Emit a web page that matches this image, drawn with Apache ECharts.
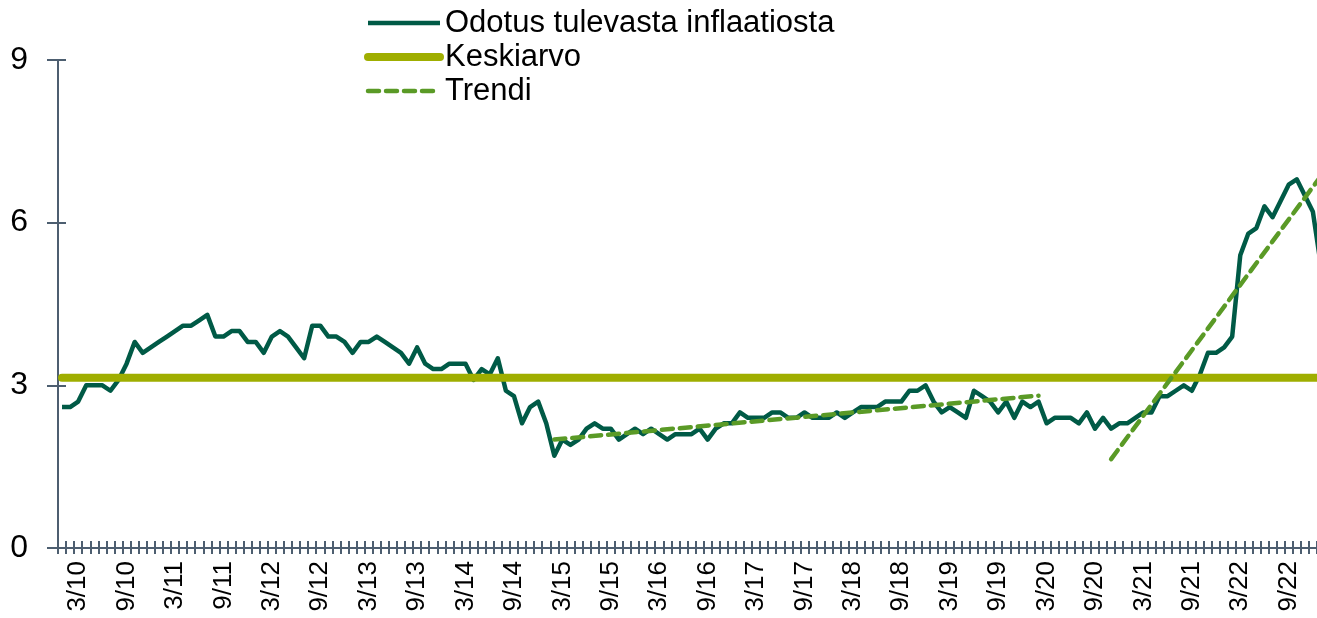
<!DOCTYPE html>
<html>
<head>
<meta charset="utf-8">
<script src="https://cdn.jsdelivr.net/npm/echarts@6/dist/echarts.min.js"></script>
<style>
  html, body { margin: 0; padding: 0; background: #fff; overflow: hidden; }
  /* kuvaaja jatkuu hieman oikean reunan yli kuten alkuperäisessä */
  #main { width: 1325px; height: 618px; }
</style>
</head>
<body>
<div id="main"></div>
<script>
// kuukaudet 1/10 - 1/23
var years = [10, 11, 12, 13, 14, 15, 16, 17, 18, 19, 20, 21, 22, 23]
var months = [1, 2, 3, 4, 5, 6, 7, 8, 9, 10, 11, 12]

var odotus = [
  2.6, 2.6, 2.7, 3.0, 3.0, 3.0, 2.9, 3.1, 3.4, 3.8, 3.6, 3.7,
  3.8, 3.9, 4.0, 4.1, 4.1, 4.2, 4.3, 3.9, 3.9, 4.0, 4.0, 3.8,
  3.8, 3.6, 3.9, 4.0, 3.9, 3.7, 3.5, 4.1, 4.1, 3.9, 3.9, 3.8,
  3.6, 3.8, 3.8, 3.9, 3.8, 3.7, 3.6, 3.4, 3.7, 3.4, 3.3, 3.3,
  3.4, 3.4, 3.4, 3.1, 3.3, 3.2, 3.5, 2.9, 2.8, 2.3, 2.6, 2.7,
  2.3, 1.7, 2.0, 1.9, 2.0, 2.2, 2.3, 2.2, 2.2, 2.0, 2.1, 2.2,
  2.1, 2.2, 2.1, 2.0, 2.1, 2.1, 2.1, 2.2, 2.0, 2.2, 2.3, 2.3,
  2.5, 2.4, 2.4, 2.4, 2.5, 2.5, 2.4, 2.4, 2.5, 2.4, 2.4, 2.4,
  2.5, 2.4, 2.5, 2.6, 2.6, 2.6, 2.7, 2.7, 2.7, 2.9, 2.9, 3.0,
  2.7, 2.5, 2.6, 2.5, 2.4, 2.9, 2.8, 2.7, 2.5, 2.7, 2.4, 2.7,
  2.6, 2.7, 2.3, 2.4, 2.4, 2.4, 2.3, 2.5, 2.2, 2.4, 2.2, 2.3,
  2.3, 2.4, 2.5, 2.5, 2.8, 2.8, 2.9, 3.0, 2.9, 3.2, 3.6, 3.6,
  3.7, 3.9, 5.4, 5.8, 5.9, 6.3, 6.1, 6.4, 6.7, 6.8, 6.5, 6.2,
  5.2
]
var keskiarvo = 3.14
// trendien alku- ja loppupisteet [kuukausi-indeksi, arvo]
var trendi1 = [[61, 2.0], [121, 2.81]]
var trendi2 = [[130, 1.64], [156, 6.86]]

var categories = []
years.forEach(function (y) {
  months.forEach(function (m) {
    if (categories.length < odotus.length) categories.push(m + '/' + y)
  })
})

var avgData = categories.map(function () { return keskiarvo })
function trendSeries(points) {
  var arr = categories.map(function () { return null })
  points.forEach(function (p) { arr[p[0]] = p[1] })
  return arr
}

var axisColor = '#4d5e70'
var font = 'Liberation Sans, Arial, sans-serif'
var trendLine = { color: '#5a9a26', width: 4.5, type: [11, 7], cap: 'round' }

var chart = echarts.init(document.getElementById('main'))
chart.setOption({
  animation: false,
  textStyle: { fontFamily: font },
  legend: {
    orient: 'vertical',
    left: 359,
    top: 2,
    itemWidth: 72,
    itemHeight: 14,
    itemGap: 2,
    itemStyle: { opacity: 0 },
    textStyle: { fontSize: 31, color: '#000', fontFamily: font, lineHeight: 32 },
    data: [
      { name: 'Odotus tulevasta inflaatiosta', lineStyle: { width: 4.5 } },
      { name: 'Keskiarvo', lineStyle: { width: 8 } },
      { name: 'Trendi', lineStyle: { width: 4.5, type: [11, 7] } }
    ]
  },
  grid: { left: 58, top: 60, bottom: 70, right: 0 },
  xAxis: [{
    type: 'category',
    data: categories,
    position: 'bottom',
    axisLine: { show: true, lineStyle: { color: axisColor, width: 2 } },
    axisTick: { show: true, interval: 0, length: 6, lineStyle: { color: axisColor, width: 2 } },
    axisLabel: {
      rotate: 90,
      fontSize: 26,
      color: '#000',
      margin: 13,
      interval: function (i) { return i % 6 === 2 }
    }
  }, {
    type: 'category',
    data: categories,
    position: 'bottom',
    axisLine: { show: true, lineStyle: { color: axisColor, width: 2 } },
    axisTick: { show: true, inside: true, interval: 0, length: 7, lineStyle: { color: axisColor, width: 2 } },
    axisLabel: { show: false }
  }],
  yAxis: [{
    type: 'value',
    min: 0,
    max: 9,
    interval: 3,
    position: 'left',
    splitLine: { show: false },
    axisLine: { show: true, lineStyle: { color: axisColor, width: 2 } },
    axisTick: { show: true, length: 11, lineStyle: { color: axisColor, width: 2 } },
    axisLabel: { fontSize: 32, color: '#000', margin: 30 }
  }, {
    type: 'value',
    min: 0,
    max: 9,
    interval: 3,
    position: 'left',
    splitLine: { show: false },
    axisLine: { show: true, lineStyle: { color: axisColor, width: 2 } },
    axisTick: { show: true, inside: true, length: 8, lineStyle: { color: axisColor, width: 2 } },
    axisLabel: { show: false }
  }],
  series: [{
    name: 'Odotus tulevasta inflaatiosta',
    type: 'line',
    data: odotus,
    symbol: 'none',
    lineStyle: { color: '#005a46', width: 4.5, join: 'round' },
    itemStyle: { color: '#005a46' }
  }, {
    name: 'Keskiarvo',
    type: 'line',
    data: avgData,
    symbol: 'none',
    lineStyle: { color: '#9fae00', width: 8, cap: 'round' },
    itemStyle: { color: '#9fae00' }
  }, {
    name: 'Trendi',
    type: 'line',
    data: trendSeries(trendi1),
    connectNulls: true,
    symbol: 'none',
    lineStyle: trendLine,
    itemStyle: { color: '#5a9a26' }
  }, {
    name: 'Trendi',
    type: 'line',
    data: trendSeries(trendi2),
    connectNulls: true,
    symbol: 'none',
    lineStyle: trendLine,
    itemStyle: { color: '#5a9a26' }
  }]
})
</script>
</body>
</html>
